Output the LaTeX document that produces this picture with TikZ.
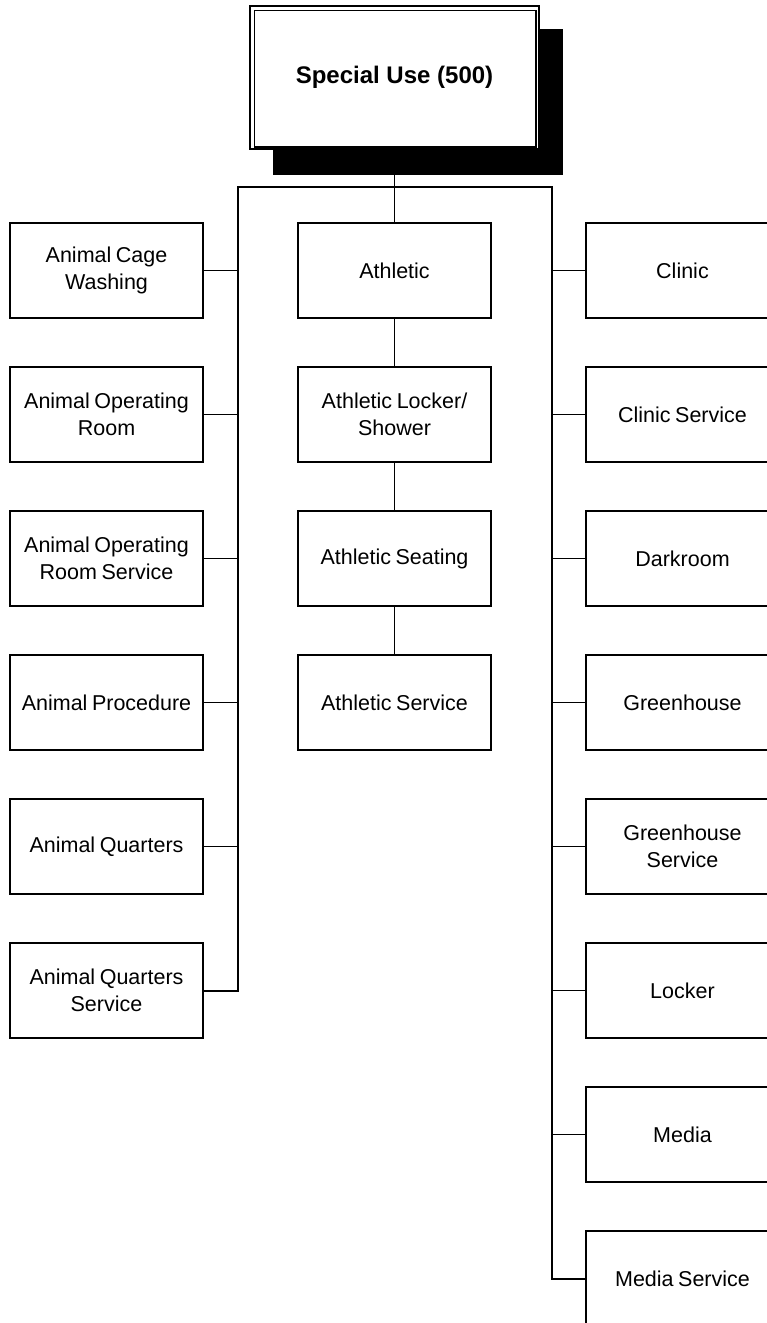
\documentclass[tikz,border=0pt]{standalone}
\usepackage{fontspec}
\setmainfont{Liberation Sans}
\newcommand{\boxfont}{\fontsize{21.5}{27}\selectfont\spaceskip=0.21em\relax}
\begin{document}
\begin{tikzpicture}[x=1pt,y=-1pt,
  unitbox/.style={draw, fill=white, line width=1.5pt, minimum width=193pt, minimum height=95pt,
    inner sep=2pt, align=center, font=\boxfont},
  link/.style={line width=1.6pt},
  spine/.style={line width=2pt}]
\useasboundingbox (0,0) rectangle (767,1323);
\clip (0,0) rectangle (767,1323);

% root with drop shadow and double frame
\fill[black] (273,29) rectangle (563,175);
\node[draw, fill=white, line width=1.5pt, minimum width=289pt, minimum height=143pt,
  font=\bfseries\fontsize{24}{28}\selectfont] (root) at (394.5,77.5) {Special Use (500)};
\draw[line width=1.5pt] ([shift={(5,5)}]root.north west) rectangle ([shift={(-4,-3)}]root.south east);

% left column
\node[unitbox] (l1) at (106.5,270.5) {Animal Cage\\Washing};
\node[unitbox] (l2) at (106.5,414.5) {Animal Operating\\Room};
\node[unitbox] (l3) at (106.5,558.5) {Animal Operating\\Room Service};
\node[unitbox] (l4) at (106.5,702.5) {Animal Procedure};
\node[unitbox] (l5) at (106.5,846.5) {Animal Quarters};
\node[unitbox] (l6) at (106.5,990.5) {Animal Quarters\\Service};

% centre column
\node[unitbox] (c1) at (394.5,270.5) {Athletic};
\node[unitbox] (c2) at (394.5,414.5) {Athletic Locker/\\Shower};
\node[unitbox] (c3) at (394.5,558.5) {Athletic Seating};
\node[unitbox] (c4) at (394.5,702.5) {Athletic Service};

% right column
\node[unitbox] (r1) at (682.5,270.5) {Clinic};
\node[unitbox] (r2) at (682.5,414.5) {Clinic Service};
\node[unitbox] (r3) at (682.5,558.5) {Darkroom};
\node[unitbox] (r4) at (682.5,702.5) {Greenhouse};
\node[unitbox] (r5) at (682.5,846.5) {Greenhouse\\Service};
\node[unitbox] (r6) at (682.5,990.5) {Locker};
\node[unitbox] (r7) at (682.5,1134.5) {Media};
\node[unitbox] (r8) at (682.5,1278.5) {Media Service};

% bus and spines
\coordinate (busL) at (238,187);
\coordinate (busR) at (552,187);
\draw[spine] (l6.east) -| (busL) -- (busR) |- (r8.west);
\draw[link] (root.south) -- (c1.north);
\draw[link] (c1) -- (c2);
\draw[link] (c2) -- (c3);
\draw[link] (c3) -- (c4);

% branches
\foreach \n in {l1,l2,l3,l4,l5}
  \draw[link] (\n.east) -- (\n.east -| busL);
\foreach \n in {r1,r2,r3,r4,r5,r6,r7}
  \draw[link] (\n.west) -- (\n.west -| busR);
\end{tikzpicture}
\end{document}
